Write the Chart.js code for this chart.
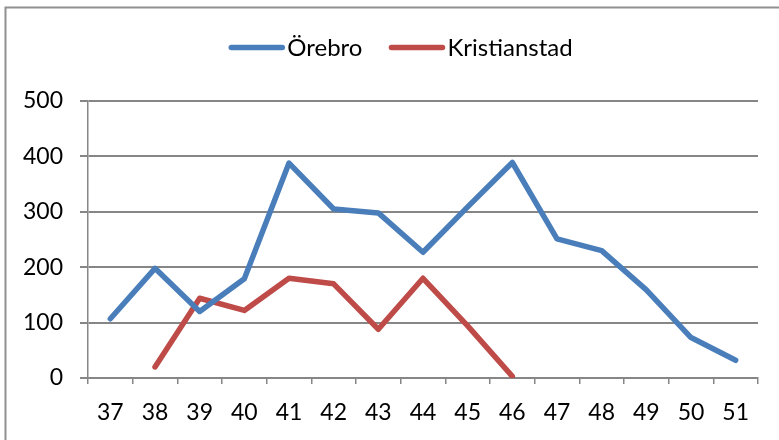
<!DOCTYPE html>
<html>
<head>
<meta charset="utf-8">
<title>Örebro / Kristianstad</title>
<script src="https://cdn.jsdelivr.net/npm/chart.js@4.4.1/dist/chart.umd.min.js"></script>
<style>
  html, body { margin: 0; padding: 0; background: #fff; }
  #wrap { width: 779px; height: 440px; }
</style>
</head>
<body>
<div id="wrap"><canvas id="grafico"></canvas></div>
<script>
// Dados (semanas 37-51)
const semanas = ['37', '38', '39', '40', '41', '42', '43', '44', '45', '46', '47', '48', '49', '50', '51'];
const orebro = [107, 198, 120, 179, 388, 305, 298, 227, 309, 389, 251, 230, 159, 73, 32];
const kristianstad = [null, 20, 144, 122, 180, 170, 88, 180, 94, 3, null, null, null, null, null];
const ticksY = [0, 100, 200, 300, 400, 500];

const fonte = 'Lato';
const cinza = '#868686';

// Moldura cinza (cortada à direita e embaixo, como no original)
const moldura = {
    id: 'moldura',
    beforeDraw(chart) {
        const ctx = chart.ctx;
        ctx.save();
        ctx.fillStyle = '#fff';
        ctx.fillRect(0, 0, chart.width, chart.height);
        ctx.strokeStyle = '#909090';
        ctx.lineWidth = 2;
        ctx.strokeRect(5.5, 7.5, chart.width + 20, chart.height + 20);
        ctx.restore();
    }
};

// Legenda desenhada à mão: linha curta + texto colado
const legenda = {
    id: 'legenda',
    afterDraw(chart) {
        const ctx = chart.ctx;
        const amostra = 55, folga = 3, espaco = 27, centro = 401, y = 47.5;
        ctx.save();
        ctx.font = '24px ' + fonte;
        const itens = chart.data.datasets.map(ds => ({
            texto: ds.label,
            cor: ds.borderColor,
            largura: amostra + folga + ctx.measureText(ds.label).width
        }));
        const total = itens.reduce((s, i) => s + i.largura, 0) + espaco * (itens.length - 1);
        let x = centro - total / 2;
        itens.forEach(item => {
            ctx.strokeStyle = item.cor;
            ctx.lineWidth = 5.5;
            ctx.lineCap = 'round';
            ctx.beginPath();
            ctx.moveTo(x + 2, y);
            ctx.lineTo(x + amostra - 2, y);
            ctx.stroke();
            ctx.fillStyle = '#000';
            ctx.textBaseline = 'middle';
            ctx.textAlign = 'left';
            ctx.fillText(item.texto, x + amostra + folga, y + 1);
            x += item.largura + espaco;
        });
        ctx.restore();
    }
};

new Chart(document.getElementById('grafico'), {
    type: 'line',
    data: {
        labels: semanas,
        datasets: [
            {
                label: 'Örebro',
                data: orebro,
                borderColor: '#4a7ebb',
                borderWidth: 5.5,
                pointRadius: 0,
                borderCapStyle: 'round',
                borderJoinStyle: 'round',
                tension: 0
            },
            {
                label: 'Kristianstad',
                data: kristianstad,
                borderColor: '#be4b48',
                borderWidth: 5.5,
                pointRadius: 0,
                borderCapStyle: 'round',
                borderJoinStyle: 'round',
                tension: 0
            }
        ]
    },
    options: {
        responsive: true,
        maintainAspectRatio: false,
        animation: false,
        layout: { padding: { top: 101, right: 21, bottom: 0, left: 0 } },
        plugins: {
            legend: { display: false },
            tooltip: { enabled: false }
        },
        scales: {
            x: {
                offset: true,
                afterFit: s => { s.height = 62; },
                grid: {
                    offset: true,
                    drawOnChartArea: false,
                    drawTicks: true,
                    tickLength: 6,
                    color: cinza,
                    lineWidth: 1.5
                },
                border: { color: cinza, width: 1.5 },
                ticks: {
                    color: '#000',
                    padding: 15,
                    maxRotation: 0,
                    autoSkip: false,
                    font: { family: fonte, size: 23 }
                }
            },
            y: {
                min: 0,
                max: 500,
                afterFit: s => { s.width = 88; },
                afterBuildTicks: s => { s.ticks = ticksY.map(v => ({ value: v })); },
                grid: {
                    drawTicks: true,
                    tickLength: 8,
                    color: cinza,
                    lineWidth: 2
                },
                border: { color: cinza, width: 1.5 },
                ticks: {
                    color: '#000',
                    padding: 17,
                    font: { family: fonte, size: 23 }
                }
            }
        }
    },
    plugins: [moldura, legenda]
});
</script>
</body>
</html>
